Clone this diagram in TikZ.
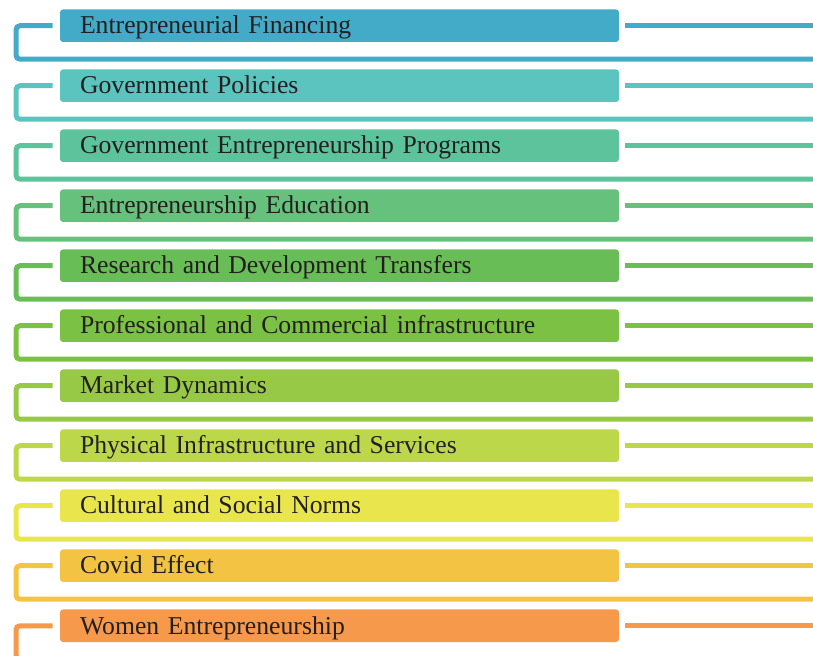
\documentclass[tikz,border=0pt]{standalone}
\usepackage{fontspec}
\setmainfont{Liberation Serif}

\definecolor{txt}{HTML}{231F20}
\definecolor{cA}{HTML}{43AAC8}
\definecolor{cB}{HTML}{5BC4BF}
\definecolor{cC}{HTML}{5CC39C}
\definecolor{cD}{HTML}{66C17D}
\definecolor{cE}{HTML}{68BD56}
\definecolor{cF}{HTML}{7BC143}
\definecolor{cG}{HTML}{97C947}
\definecolor{cH}{HTML}{BCD84A}
\definecolor{cI}{HTML}{E9E64D}
\definecolor{cJ}{HTML}{F3C444}
\definecolor{cK}{HTML}{F7994A}

\begin{document}
\begin{tikzpicture}[x=0.5pt,y=-0.5pt,
  bar/.style={rectangle, rounded corners=1.5pt, fill=#1, text=txt,
    minimum height=16.25pt, text width=259.5pt, inner xsep=10pt, inner ysep=0pt,
    align=left, text height=9.25pt, text depth=1pt,
    font=\fontsize{12.85}{15}\selectfont},
  link/.style={draw=#1, line width=2.5pt, rounded corners=2pt}]

\useasboundingbox (0,0) rectangle (813,656);

% bars
\node[bar=cA] (b1) at (339.5,25.75) {Entrepreneurial Financing};
\node[bar=cB] (b2) at (339.5,85.75) {Government Policies};
\node[bar=cC] (b3) at (339.5,145.75) {Government Entrepreneurship Programs};
\node[bar=cD] (b4) at (339.5,205.75) {Entrepreneurship Education};
\node[bar=cE] (b5) at (339.5,265.75) {Research and Development Transfers};
\node[bar=cF] (b6) at (339.5,325.75) {Professional and Commercial infrastructure};
\node[bar=cG] (b7) at (339.5,385.75) {Market Dynamics};
\node[bar=cH] (b8) at (339.5,445.75) {Physical Infrastructure and Services};
\node[bar=cI] (b9) at (339.5,505.75) {Cultural and Social Norms};
\node[bar=cJ] (b10) at (339.5,565.75) {Covid Effect};
\node[bar=cK] (b11) at (339.5,625.75) {Women Entrepreneurship};

% left brackets
\draw[link=cA] ([xshift=-3.5pt]b1.west) -| (16,59.25) -- (813,59.25);
\draw[link=cB] ([xshift=-3.5pt]b2.west) -| (16,119.25) -- (813,119.25);
\draw[link=cC] ([xshift=-3.5pt]b3.west) -| (16,179.25) -- (813,179.25);
\draw[link=cD] ([xshift=-3.5pt]b4.west) -| (16,239.25) -- (813,239.25);
\draw[link=cE] ([xshift=-3.5pt]b5.west) -| (16,299.25) -- (813,299.25);
\draw[link=cF] ([xshift=-3.5pt]b6.west) -| (16,359.25) -- (813,359.25);
\draw[link=cG] ([xshift=-3.5pt]b7.west) -| (16,419.25) -- (813,419.25);
\draw[link=cH] ([xshift=-3.5pt]b8.west) -| (16,479.25) -- (813,479.25);
\draw[link=cI] ([xshift=-3.5pt]b9.west) -| (16,539.25) -- (813,539.25);
\draw[link=cJ] ([xshift=-3.5pt]b10.west) -| (16,599.25) -- (813,599.25);
\draw[link=cK] ([xshift=-3.5pt]b11.west) -| (16,659.25) -- (813,659.25);

% right stubs
\draw[link=cA] ([xshift=3pt]b1.east) -- ([xshift=97pt]b1.east);
\draw[link=cB] ([xshift=3pt]b2.east) -- ([xshift=97pt]b2.east);
\draw[link=cC] ([xshift=3pt]b3.east) -- ([xshift=97pt]b3.east);
\draw[link=cD] ([xshift=3pt]b4.east) -- ([xshift=97pt]b4.east);
\draw[link=cE] ([xshift=3pt]b5.east) -- ([xshift=97pt]b5.east);
\draw[link=cF] ([xshift=3pt]b6.east) -- ([xshift=97pt]b6.east);
\draw[link=cG] ([xshift=3pt]b7.east) -- ([xshift=97pt]b7.east);
\draw[link=cH] ([xshift=3pt]b8.east) -- ([xshift=97pt]b8.east);
\draw[link=cI] ([xshift=3pt]b9.east) -- ([xshift=97pt]b9.east);
\draw[link=cJ] ([xshift=3pt]b10.east) -- ([xshift=97pt]b10.east);
\draw[link=cK] ([xshift=3pt]b11.east) -- ([xshift=97pt]b11.east);
\end{tikzpicture}
\end{document}
